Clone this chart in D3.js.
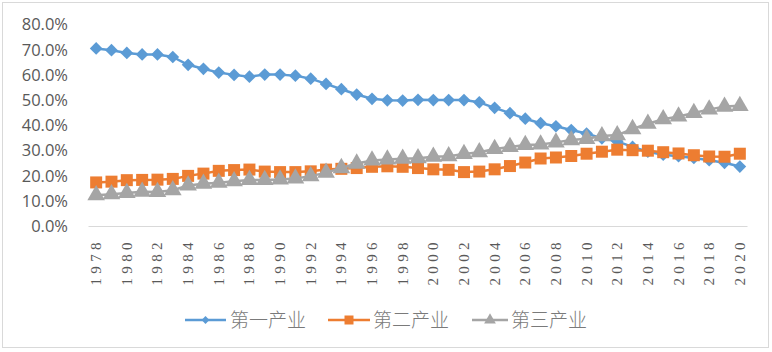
<!DOCTYPE html>
<html><head><meta charset="utf-8">
<script src="https://cdn.jsdelivr.net/npm/d3@7"></script>
<style>body{margin:0;background:#fff}svg{display:block}</style>
</head><body><svg id="c" width="772" height="352"></svg>
<script>
const years = d3.range(1978, 2021).map(String);
const seriesNames = ["第一产业", "第二产业", "第三产业"];
const primary = [70.5,69.8,68.7,68.1,68.1,67.1,64.0,62.4,60.9,60.0,59.3,60.1,60.1,59.7,58.5,56.4,54.3,52.2,50.5,49.9,49.8,50.1,50.0,50.0,50.0,49.1,46.9,44.8,42.6,40.8,39.6,38.1,36.7,34.8,33.6,31.4,29.5,28.3,27.7,27.0,26.1,25.1,23.6];
const secondary = [17.3,17.6,18.2,18.3,18.4,18.7,19.9,20.8,21.9,22.2,22.4,21.6,21.4,21.4,21.7,22.4,22.7,23.0,23.5,23.7,23.5,23.0,22.5,22.3,21.4,21.6,22.5,23.8,25.2,26.8,27.2,27.8,28.7,29.5,30.3,30.1,29.9,29.3,28.8,28.1,27.6,27.5,28.7];
const tertiary = [12.2,12.6,13.1,13.6,13.5,14.2,16.1,16.8,17.2,17.8,18.3,18.3,18.5,18.9,19.8,21.2,23.0,24.8,26.0,26.4,26.7,26.9,27.5,27.7,28.6,29.3,30.6,31.4,32.2,32.4,33.2,34.1,34.6,35.7,36.1,38.5,40.6,42.4,43.5,44.9,46.3,47.4,47.7];
const yTicks = [0,10,20,30,40,50,60,70,80];
const tickYears = years.filter((y,i)=>i%2===0);

const svg = d3.select("#c");
svg.append("rect").attr("x",2.5).attr("y",2.5).attr("width",766).attr("height",345)
  .attr("fill","#fff").attr("stroke","#d9d9d9");

const x = d3.scaleBand().domain(years).range([88.5, 747.5]);
const y = d3.scaleLinear().domain([0,80]).range([226, 24.5]);
const cx = d => x(d) + x.bandwidth()/2;

// y axis labels
svg.append("g").selectAll("text").data(yTicks).join("text")
  .attr("x", 68).attr("y", d=>y(d)).attr("dy","0.36em")
  .attr("text-anchor","end").attr("fill","#595959")
  .style("font-family","Open Sans, Liberation Sans, sans-serif").style("font-size","16.5px")
  .text(d=>d.toFixed(1)+"%");

// x axis line
svg.append("line").attr("x1",88.5).attr("x2",747.5).attr("y1",226.5).attr("y2",226.5)
  .attr("stroke","#d9d9d9").attr("stroke-width",1);

// x labels
svg.append("g").selectAll("text").data(tickYears).join("text")
  .attr("transform", d=>`translate(${cx(d)+5},238) rotate(-90)`)
  .attr("text-anchor","end").attr("fill","#595959")
  .style("font-family","Liberation Serif, serif").style("font-size","15px")
  .style("letter-spacing","4.4px")
  .text(d=>d);

const colors = ["#5B9BD5","#ED7D31","#A5A5A5"];
const data = [primary, secondary, tertiary];
const line = d3.line().x((d,i)=>cx(years[i])).y(d=>y(d));

function marker(g, k, size){
  if(k===0) return g.append("path").attr("d", d3.symbol(d3.symbolSquare, size*size)()).attr("transform","rotate(45)");
  if(k===1) return g.append("path").attr("d", d3.symbol(d3.symbolSquare, size*size)());
  return g.append("path").attr("d", d3.symbol(d3.symbolTriangle, size*size*0.6)());
}

data.forEach((vals,k)=>{
  const g = svg.append("g");
  g.append("path").datum(vals).attr("d", line).attr("fill","none")
    .attr("stroke",colors[k]).attr("stroke-width",2.5).attr("stroke-linejoin","round");
  vals.forEach((v,i)=>{
    const mg = g.append("g").attr("transform",`translate(${cx(years[i])},${y(v)})`);
    const sz = k===0 ? 9 : (k===1 ? 12 : 15);
    marker(mg,k,sz).attr("fill",colors[k]);
  });
});

// legend
const legend = [{x1:185,x2:226,tx:230},{x1:328,x2:370,tx:373},{x1:472,x2:508,tx:511}];
legend.forEach((l,k)=>{
  const g = svg.append("g");
  g.append("line").attr("x1",l.x1).attr("x2",l.x2).attr("y1",320).attr("y2",320)
    .attr("stroke",colors[k]).attr("stroke-width",2.5);
  const mg = g.append("g").attr("transform",`translate(${(l.x1+l.x2)/2},320)`);
  marker(mg,k,k===0?5.5:(k===1?9:10)).attr("fill",colors[k]);
  g.append("text").attr("x",l.tx).attr("y",320).attr("dy","0.36em")
    .attr("fill","#7a7a7a").style("font-family","Noto Sans CJK SC, sans-serif")
    .style("font-weight","300").style("font-size","19px").text(seriesNames[k]);
});
</script></body></html>
